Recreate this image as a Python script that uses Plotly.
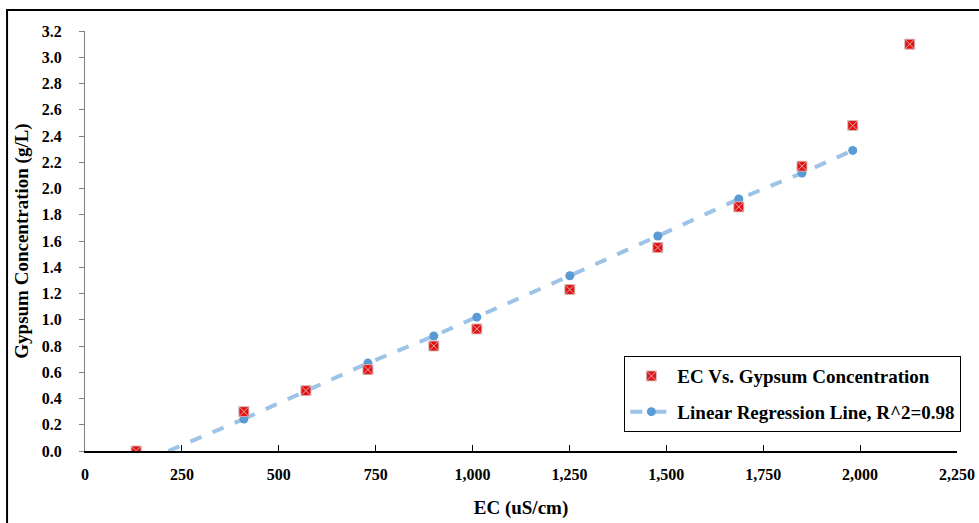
import plotly.graph_objects as go

# Data
ec_obs = [132, 410, 570, 730, 900, 1011, 1251, 1478, 1687, 1850, 1981, 2128]
gyp_obs = [0.0, 0.30, 0.46, 0.62, 0.80, 0.93, 1.23, 1.55, 1.86, 2.17, 2.48, 3.10]

ec_fit = [410, 730, 900, 1011, 1251, 1478, 1687, 1850, 1981]
gyp_fit = [0.244, 0.67, 0.876, 1.02, 1.335, 1.638, 1.92, 2.118, 2.29]
ec_fit_start = [215, 410]
gyp_fit_start = [0.0, 0.244]

x_ticks = [0, 250, 500, 750, 1000, 1250, 1500, 1750, 2000, 2250]
x_tick_labels = ["0", "250", "500", "750", "1,000", "1,250", "1,500", "1,750", "2,000", "2,250"]
y_ticks = [0.0, 0.2, 0.4, 0.6, 0.8, 1.0, 1.2, 1.4, 1.6, 1.8, 2.0, 2.2, 2.4, 2.6, 2.8, 3.0, 3.2]

FONT = "Liberation Serif"
line_col = "#9DC3E6"
mk_col = "#5B9BD5"

fig = go.Figure()
fig.add_trace(go.Scatter(
    x=ec_fit_start, y=gyp_fit_start, mode="lines",
    line=dict(color=line_col, width=4, dash="dash"),
    showlegend=False, hoverinfo="skip", legendgroup="fit", legendrank=3))
fig.add_trace(go.Scatter(
    x=ec_fit, y=gyp_fit, mode="lines+markers",
    name="Linear Regression Line, R^2=0.98", legendgroup="fit", legendrank=2,
    line=dict(color=line_col, width=4, dash="dash"),
    marker=dict(color=mk_col, size=9)))
fig.add_trace(go.Scatter(
    x=ec_obs, y=gyp_obs, mode="markers", legendgroup="obs", legendrank=1,
    name="EC Vs. Gypsum Concentration",
    marker=dict(symbol="square-x", color="#E81010", size=10,
                line=dict(color="rgba(210,190,190,0.9)", width=1))))

fig.update_layout(
    width=979, height=523,
    margin=dict(l=85, r=22, t=31, b=72),
    paper_bgcolor="white", plot_bgcolor="white",
    font=dict(family=FONT, size=16, color="black"),
    legend=dict(
        x=1.005, y=0.226, xanchor="right", yanchor="top",
        bordercolor="black", borderwidth=1, bgcolor="white",
        font=dict(family=FONT, size=19, color="black", weight="bold"),
        traceorder="grouped", itemwidth=42,
        tracegroupgap=8),
    xaxis=dict(
        range=[0, 2250], tickvals=x_ticks, ticktext=x_tick_labels,
        showgrid=False, zeroline=False, automargin=False,
        showline=True, linecolor="black", linewidth=1.5,
        ticks="inside", ticklen=6, tickcolor="black",
        ticklabelstandoff=8,
        tickfont=dict(family=FONT, size=16, weight="bold"),
        title=dict(text="EC (uS/cm)", font=dict(family=FONT, size=19, weight="bold"), standoff=19),
    ),
    yaxis=dict(
        range=[0, 3.2], tickvals=y_ticks, tickformat=".1f",
        showgrid=False, zeroline=False, automargin=False,
        showline=True, linecolor="#808080", linewidth=1,
        ticks="outside", ticklen=5, tickcolor="#808080",
        ticklabelstandoff=14,
        tickfont=dict(family=FONT, size=16, weight="bold"),
        title=dict(text="Gypsum Concentration (g/L)", font=dict(family=FONT, size=19, weight="bold"), standoff=8),
    ),
    shapes=[dict(type="rect", xref="paper", yref="paper",
                 x0=-0.0894, x1=1.04, y0=-0.2, y1=1.05,
                 line=dict(color="black", width=2), fillcolor="rgba(0,0,0,0)")],
)

fig.write_html("out.html")
